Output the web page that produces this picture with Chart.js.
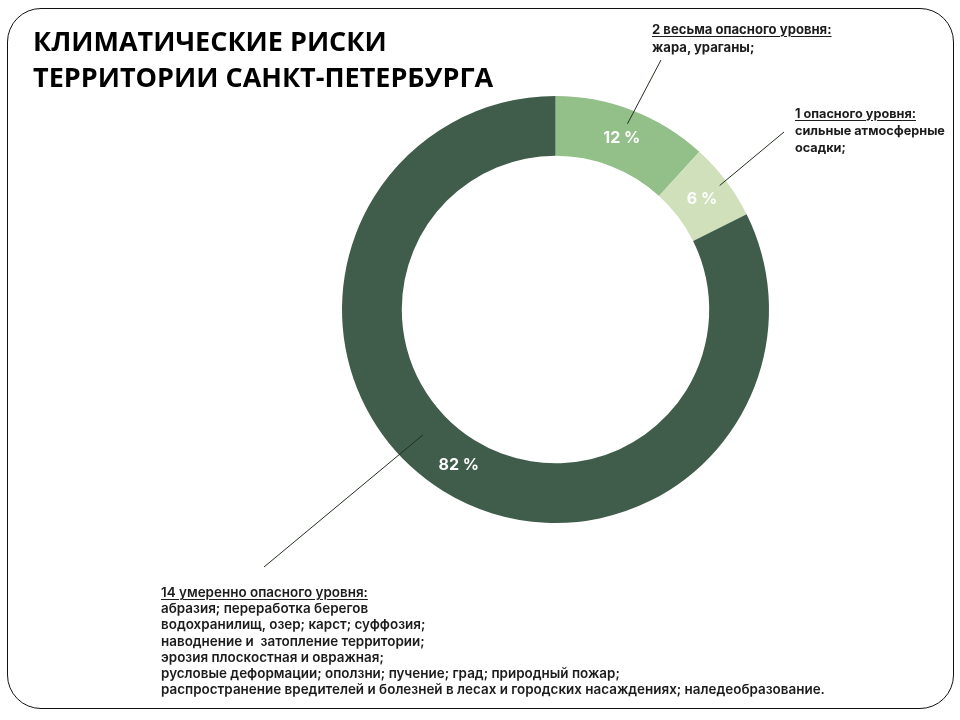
<!DOCTYPE html>
<html lang="ru">
<head>
  <meta charset="UTF-8" />
  <title>Климатические риски территории Санкт-Петербурга</title>
  <script src="https://cdn.jsdelivr.net/npm/chart.js"></script>
  <style>
    html, body { margin: 0; padding: 0; background: #fff; }
    body { width: 960px; height: 720px; position: relative; overflow: hidden;
           font-family: Inter, 'Noto Sans', sans-serif; color: #1c1c1c; }
    #frame { position: absolute; left: 7px; top: 8px; width: 947px; height: 701px;
             border: 1.5px solid #111; border-radius: 34px; box-sizing: border-box; }
    #chart { position: absolute; left: 0; top: 0; }
    h1 { position: absolute; left: 33px; top: 23px; margin: 0; color: #000;
         font: 700 27px/36px 'Open Sans', sans-serif; white-space: nowrap; }
    .note { position: absolute; white-space: pre; }
    .note u { text-underline-offset: 2px; text-decoration-thickness: 1px; }
  </style>
</head>
<body>
  <div id="frame"></div>
  <canvas id="chart" width="960" height="720"></canvas>
  <h1>КЛИМАТИЧЕСКИЕ РИСКИ<br>ТЕРРИТОРИИ САНКТ-ПЕТЕРБУРГА</h1>

  <script>
    // данные: число рисков по уровню опасности
    const categories = ['весьма опасного уровня', 'опасного уровня', 'умеренно опасного уровня'];
    const riskCounts = [2, 1, 14];
    const riskLines = [
      ['жара, ураганы;'],
      ['сильные атмосферные', 'осадки;'],
      ['абразия; переработка берегов',
       'водохранилищ, озер; карст; суффозия;',
       'наводнение и  затопление территории;',
       'эрозия плоскостная и овражная;',
       'русловые деформации; оползни; пучение; град; природный пожар;',
       'распространение вредителей и болезней в лесах и городских насаждениях; наледеобразование.']
    ];

    // расположение подписей (пиксели страницы)
    const notes = [
      { left: 652, top: 21, lh: 17.5, size: 13.1, weight: 700, from: [0.5, 0.76], to: [661, 60] },
      { left: 795, top: 104.5, lh: 17, size: 12.7, weight: 700, from: [0.5, 0.87], to: [784, 132] },
      { left: 161, top: 584, lh: 16.2, size: 13.45, weight: 600, from: [0.55, 0.48], to: [264, 567] }
    ];

    // подписи-выноски
    notes.forEach((n, i) => {
      const div = document.createElement('div');
      div.className = 'note';
      div.style.left = n.left + 'px';
      div.style.top = n.top + 'px';
      div.style.lineHeight = n.lh + 'px';
      div.style.fontSize = n.size + 'px';
      div.style.fontWeight = n.weight;
      const head = document.createElement('u');
      head.textContent = `${riskCounts[i]} ${categories[i]}:`;
      div.appendChild(head);
      riskLines[i].forEach(t => {
        div.appendChild(document.createElement('br'));
        div.appendChild(document.createTextNode(t));
      });
      document.body.appendChild(div);
    });

    const total = riskCounts.reduce((a, b) => a + b, 0);

    // проценты внутри кольца и линии-выноски
    const calloutPlugin = {
      id: 'callouts',
      afterDatasetsDraw(chart) {
        const ctx = chart.ctx;
        const arcs = chart.getDatasetMeta(0).data;
        ctx.save();
        // линии
        ctx.strokeStyle = '#22301f';
        ctx.lineWidth = 1;
        notes.forEach((n, i) => {
          const a = arcs[i];
          const ang = a.startAngle + (a.endAngle - a.startAngle) * n.from[0];
          const r = a.innerRadius + (a.outerRadius - a.innerRadius) * n.from[1];
          ctx.beginPath();
          ctx.moveTo(a.x + Math.cos(ang) * r, a.y + Math.sin(ang) * r);
          ctx.lineTo(n.to[0], n.to[1]);
          ctx.stroke();
        });
        // проценты
        ctx.fillStyle = '#fff';
        ctx.font = '700 16px Inter, sans-serif';
        ctx.textAlign = 'center';
        ctx.textBaseline = 'middle';
        arcs.forEach((a, i) => {
          const p = a.tooltipPosition();
          ctx.fillText(Math.round(riskCounts[i] / total * 100) + ' %', p.x, p.y);
        });
        ctx.restore();
      }
    };

    new Chart(document.getElementById('chart'), {
      type: 'doughnut',
      data: {
        labels: categories,
        datasets: [{
          data: riskCounts,
          backgroundColor: ['#93bf89', '#cfe0bb', '#405c4a'],
          borderWidth: 0
        }]
      },
      options: {
        responsive: false,
        animation: false,
        cutout: '72%',
        layout: { padding: { left: 342, right: 191, top: 96, bottom: 197 } },
        plugins: { legend: { display: false }, tooltip: { enabled: false } }
      },
      plugins: [calloutPlugin]
    });
  </script>
</body>
</html>
